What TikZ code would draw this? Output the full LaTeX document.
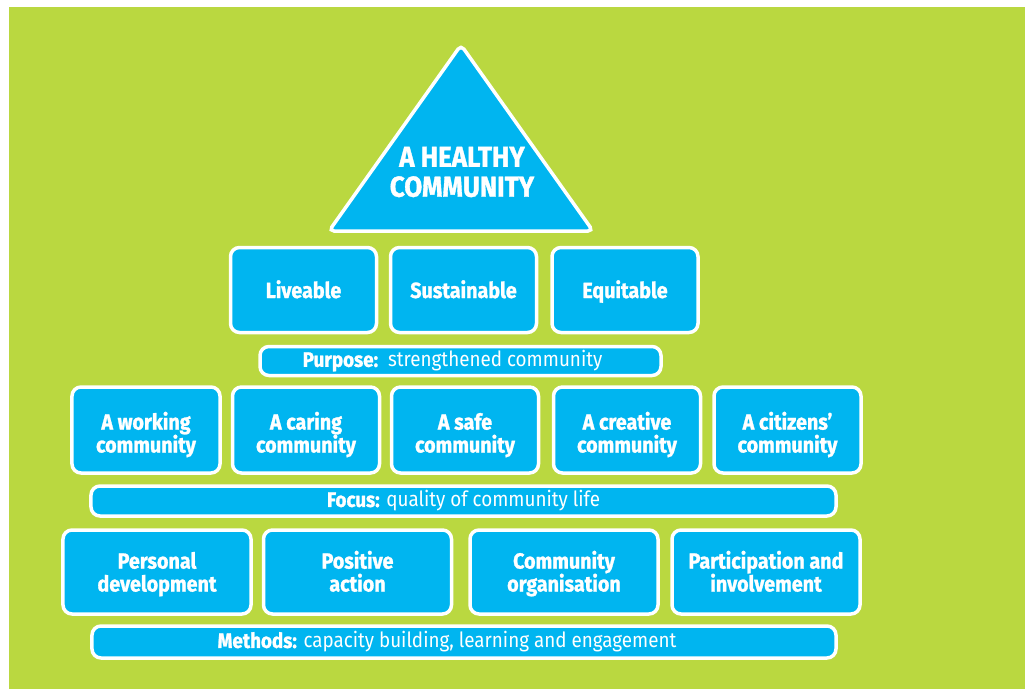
\documentclass[tikz,border=0pt]{standalone}
\usepackage{fontspec}
\setmainfont{Fira Sans}[FakeStretch=0.9, BoldFeatures={FakeBold=1.2}]
\definecolor{leaf}{RGB}{186,216,64}
\definecolor{sky}{RGB}{0,181,240}
\tikzset{
	tile/.style={draw=white, line width=3.5bp, fill=sky, rounded corners=9bp, text=white, align=center, inner sep=0pt},
	pillar/.style={tile, font=\fontsize{22}{23}\selectfont\bfseries},
	twoline/.style={text height=#1, text depth=5bp},
	bar/.style={tile, font=\fontsize{21}{22}\selectfont},
}

\begin{document}
\begin{tikzpicture}[x=1bp, y=-1bp]
				\useasboundingbox (0,0) rectangle (1029,689);
				\fill[leaf] (9,7) rectangle (1025,689);
				% top
				\coordinate (peak) at (461,45);
				\coordinate (baseR) at (593,231);
				\coordinate (baseL) at (329,231);
				\draw[tile, rounded corners=5bp] (peak) -- (baseR) -- (baseL) -- cycle;
				\node[text=white, align=center, font=\fontsize{29}{30}\selectfont\bfseries] (healthy) at (462,172) {A HEALTHY\\COMMUNITY};
				% values
				\node[pillar, twoline=21bp, minimum width=146bp, minimum height=85bp] (liv) at (303.5,290) {Liveable};
				\node[pillar, twoline=21bp, minimum width=146bp, minimum height=85bp] (sus) at (463.5,290) {Sustainable};
				\node[pillar, twoline=21bp, minimum width=146bp, minimum height=85bp] (equ) at (625,290) {Equitable};
				\node[bar, minimum width=401bp, minimum height=29bp] (purpose) at (460.5,361) {\textbf{Purpose:}\ \ strengthened community\hspace*{16bp}};
				% outcomes
				\node[pillar, twoline=50bp, minimum width=148bp, minimum height=86bp] (work) at (146,430) {A working\\community};
				\node[pillar, twoline=50bp, minimum width=147bp, minimum height=86bp] (care) at (306,430) {A caring\\community};
				\node[pillar, twoline=50bp, minimum width=147bp, minimum height=86bp] (safe) at (465,430) {A safe\\community};
				\node[pillar, twoline=50bp, minimum width=147bp, minimum height=86bp] (crea) at (627,430) {A creative\\community};
				\node[pillar, twoline=50bp, minimum width=147bp, minimum height=86bp] (citi) at (787.5,430) {A citizens’\\community};
				\node[bar, minimum width=745bp, minimum height=30bp] (focus) at (463.5,501) {\textbf{Focus:} quality of community life};
				% methods
				\node[pillar, twoline=44bp, minimum width=188bp, minimum height=84bp] (pers) at (157,572) {Personal\\development};
				\node[pillar, twoline=44bp, minimum width=188bp, minimum height=84bp] (posi) at (357.5,572) {Positive\\action};
				\node[pillar, twoline=44bp, minimum width=188bp, minimum height=84bp] (orga) at (564,572) {Community\\organisation};
				\node[pillar, twoline=44bp, minimum width=188bp, minimum height=84bp] (part) at (766,572) {Participation and\\involvement};
				\node[bar, minimum width=744bp, minimum height=32bp] (methods) at (464,642) {\textbf{Methods:} capacity building, learning and engagement\hspace*{34bp}};
			\end{tikzpicture}
\end{document}
